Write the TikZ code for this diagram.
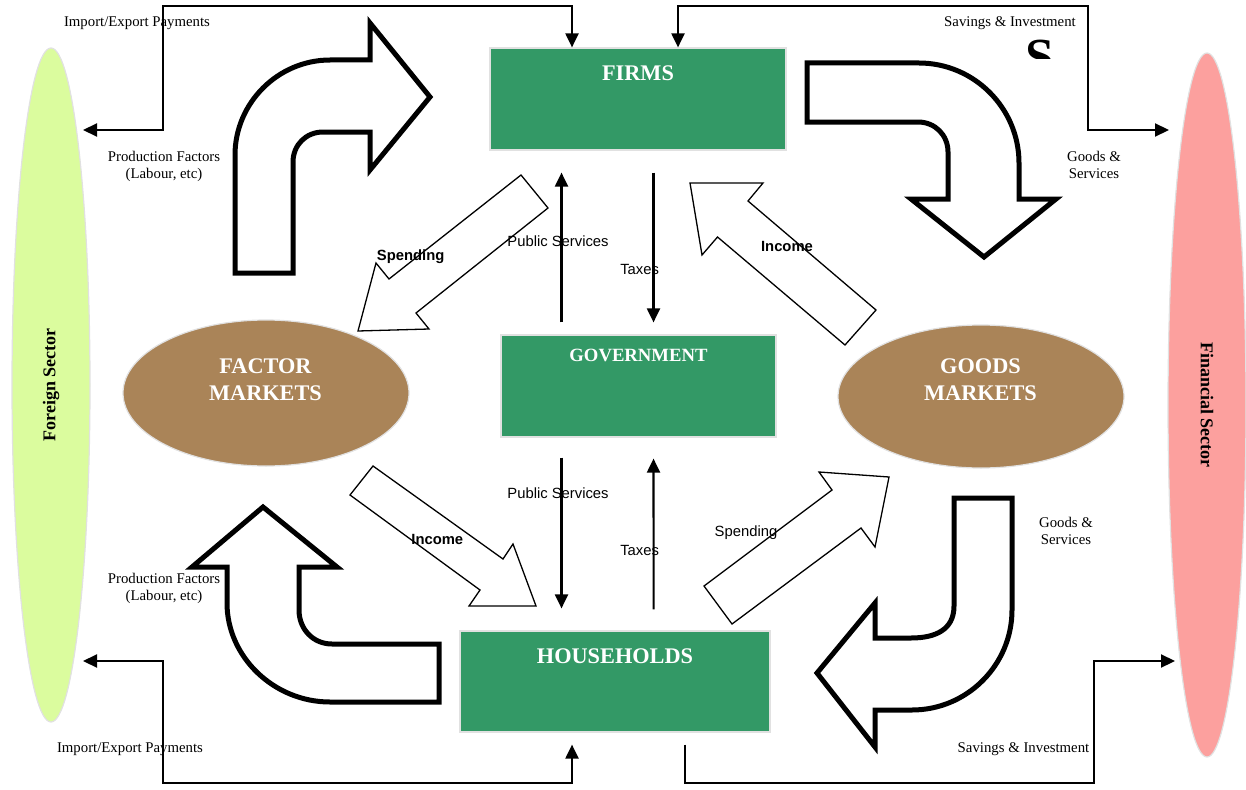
\documentclass[tikz,border=0pt]{standalone}
\usepackage{fontspec}
\setmainfont{Liberation Serif}
\newfontfamily\myarial{Liberation Sans}
\usetikzlibrary{arrows.meta,shapes.geometric}
\definecolor{boxgreen}{RGB}{51,153,102}
\definecolor{marketbrown}{RGB}{170,132,88}
\definecolor{foreigngreen}{RGB}{219,252,158}
\definecolor{finsalmon}{RGB}{252,160,158}
\definecolor{edgegray}{RGB}{225,225,225}
\newcommand\mytitlefont{\fontsize{22.3}{27}\selectfont\bfseries}
\newcommand\mygovfont{\fontsize{18.7}{22}\selectfont\bfseries}
\newcommand\mysecfont{\fontsize{18}{22}\selectfont\bfseries}
\newcommand\mylblfont{\fontsize{14.8}{17}\selectfont}
\newcommand\myslblfont{\myarial\fontsize{14.8}{17}\selectfont}
\newcommand\mybigsfont{\fontsize{52}{60}\selectfont\bfseries}
\tikzset{
  >={Triangle[length=14pt,width=13pt]},
  flow/.style={line width=2.1pt, draw=black},
  thickarrow/.style={draw=black, fill=white, line width=5pt, line join=miter},
  thinarrow/.style={draw=black, fill=white, line width=1.3pt, line join=miter},
  box/.style={rectangle, fill=boxgreen, draw=edgegray, line width=1.2pt, inner sep=0pt},
  market/.style={ellipse, fill=marketbrown, draw=edgegray, line width=1.2pt, inner sep=0pt},
  sector/.style={ellipse, draw=edgegray, line width=1.2pt, inner sep=0pt, font=\mysecfont},
  title/.style={text=white, font=\mytitlefont, anchor=base, inner sep=0pt},
  lbl/.style={font=\mylblfont, align=center, inner sep=0pt},
  slbl/.style={font=\myslblfont, inner sep=0pt},
  sblbl/.style={font=\myslblfont\bfseries, inner sep=0pt},
}
\begin{document}
\begin{tikzpicture}[x=1pt,y=-1pt]
\useasboundingbox (0,0) rectangle (1246,789);

% sectors
\node[sector, fill=foreigngreen, rotate=90, minimum width=674pt, minimum height=78pt] (foreign) at (51,385) {Foreign Sector};
\node[sector, fill=finsalmon, rotate=-90, minimum width=704pt, minimum height=78pt] (financial) at (1207,405) {Financial Sector};

% boxes
\node[box, minimum width=296pt, minimum height=102pt] (firms) at (638,99) {};
\node[box, minimum width=275pt, minimum height=102pt] (gov) at (638.5,386) {};
\node[box, minimum width=310pt, minimum height=101pt] (households) at (615,681.5) {};
\node[title] (firmst) at (638,80.7) {FIRMS};
\node[title, font=\mygovfont] (govt) at (638.5,361.7) {GOVERNMENT};
\node[title] (hht) at (615,663) {HOUSEHOLDS};

% markets
\node[market, minimum width=286pt, minimum height=146pt] (factor) at (266,393) {};
\node[market, minimum width=286pt, minimum height=143pt] (goods) at (981,396.5) {};
\node[title] (factort1) at (265.5,373) {FACTOR};
\node[title] (factort2) at (265.5,400) {MARKETS};
\node[title] (goodst1) at (980.5,373) {GOODS};
\node[title] (goodst2) at (980.5,400) {MARKETS};

% connector end points
\coordinate (fsTop) at (83,130);
\coordinate (fsBot) at (83,661);
\coordinate (finTop) at (1169,130);
\coordinate (finBot) at (1175,661);

% outer connectors
\draw[flow,<->] ([xshift=-66pt]firms.north) -- ++(0,-41) -| (163,130) -- (fsTop);
\draw[flow,<->] ([xshift=40pt]firms.north) -- ++(0,-41) -| (1088,130) -- (finTop);
\draw[flow,<->] ([xshift=-43pt,yshift=-12pt]households.south) -- (572,783) -| (163,661) -- (fsBot);
\draw[flow,->] ([xshift=70pt,yshift=-12pt]households.south) -- (685,783) -| (1094,661) -- (finBot);

% government connectors
\draw[flow,->] ([xshift=-77pt,yshift=12pt]gov.north) -- ([xshift=-76.5pt,yshift=-22pt]firms.south);
\draw[flow,->] ([xshift=15.5pt,yshift=-22pt]firms.south) -- ([xshift=15pt,yshift=12pt]gov.north);
\draw[flow,->] ([xshift=-77pt,yshift=-20pt]gov.south) -- ([xshift=-53.5pt,yshift=22pt]households.north);
\draw[flow,->] ([xshift=38.6pt,yshift=21pt]households.north) -- ([xshift=15pt,yshift=-21pt]gov.south);

% thick curved arrows
\draw[thickarrow] (235,273) -- (293,273) -- (293,162) .. controls (293,145) and (306,132) .. (323,132) -- (370,132) -- (370,170) -- (430,97) -- (370,23) -- (370,60) -- (330,60) .. controls (278,60) and (235,103) .. (235,155) -- cycle;
\draw[thickarrow] (807,63) -- (919,63) .. controls (974,63) and (1019,108) .. (1019,163) -- (1019,199) -- (1056,199) -- (984,257) -- (911,199) -- (948,199) -- (948,152) .. controls (948,135) and (935,122) .. (918,122) -- (807,122) -- cycle;
\draw[thickarrow] (263,507) -- (337,567) -- (299,567) -- (299,610) .. controls (299,629) and (313,644) .. (332,644) -- (439,644) -- (439,702) -- (330,702) .. controls (274,702) and (227,657) .. (227,603) -- (227,567) -- (192,567) -- cycle;
\draw[thickarrow] (954,498) -- (1012,498) -- (1012,610) .. controls (1012,665) and (967,710) .. (912,710) -- (875,710) -- (875,747) -- (817,673) -- (875,603) -- (875,638) -- (911,638) .. controls (935,638) and (954,630) .. (954,606) -- cycle;

% thin block arrows
\draw[thinarrow] (521,175) -- (548,208) -- (416,313) -- (429,329) -- (358,331) -- (376,263) -- (389,279) -- cycle;
\draw[thinarrow] (690,183) -- (763,183) -- (748,201) -- (876,310) -- (845,345) -- (717.5,237) -- (702,255) -- cycle;
\draw[thinarrow] (373,466) -- (350,495) -- (480,590) -- (469,606) -- (536,606) -- (513,544) -- (503,559) -- cycle;
\draw[thinarrow] (704,586) -- (732,624) -- (861,528) -- (875,547) -- (889,477) -- (819,472) -- (832,490) -- cycle;

% clipped big S
\begin{scope}
\clip (1000,30) rectangle (1080,59);
\node[font=\mybigsfont, anchor=base, inner sep=0pt] (bigs) at (1040,75) {S};
\end{scope}

% labels
\node[lbl] (iep1) at (137,23.5) {Import/Export Payments};
\node[lbl] (iep2) at (130,749.5) {Import/Export Payments};
\node[lbl] (si1) at (1010,23.5) {Savings \& Investment};
\node[lbl] (si2) at (1023.5,749.5) {Savings \& Investment};
\node[lbl] (pf1) at (164,166.5) {Production Factors\\(Labour, etc)};
\node[lbl] (pf2) at (164,588.5) {Production Factors\\(Labour, etc)};
\node[lbl] (gs1) at (1094,165) {Goods \&\\Services};
\node[lbl] (gs2) at (1066,530.5) {Goods \&\\Services};

\node[slbl] (ps1) at (558,241) {Public Services};
\node[slbl] (ps2) at (558,493.5) {Public Services};
\node[slbl] (tx1) at (639.6,269) {Taxes};
\node[slbl] (tx2) at (639.6,550) {Taxes};
\node[sblbl] (sp1) at (410.7,256.5) {Spending};
\node[sblbl] (in1) at (787,246) {Income};
\node[sblbl] (in2) at (437.3,539) {Income};
\node[slbl] (sp2) at (746,533) {Spending};
\end{tikzpicture}
\end{document}
